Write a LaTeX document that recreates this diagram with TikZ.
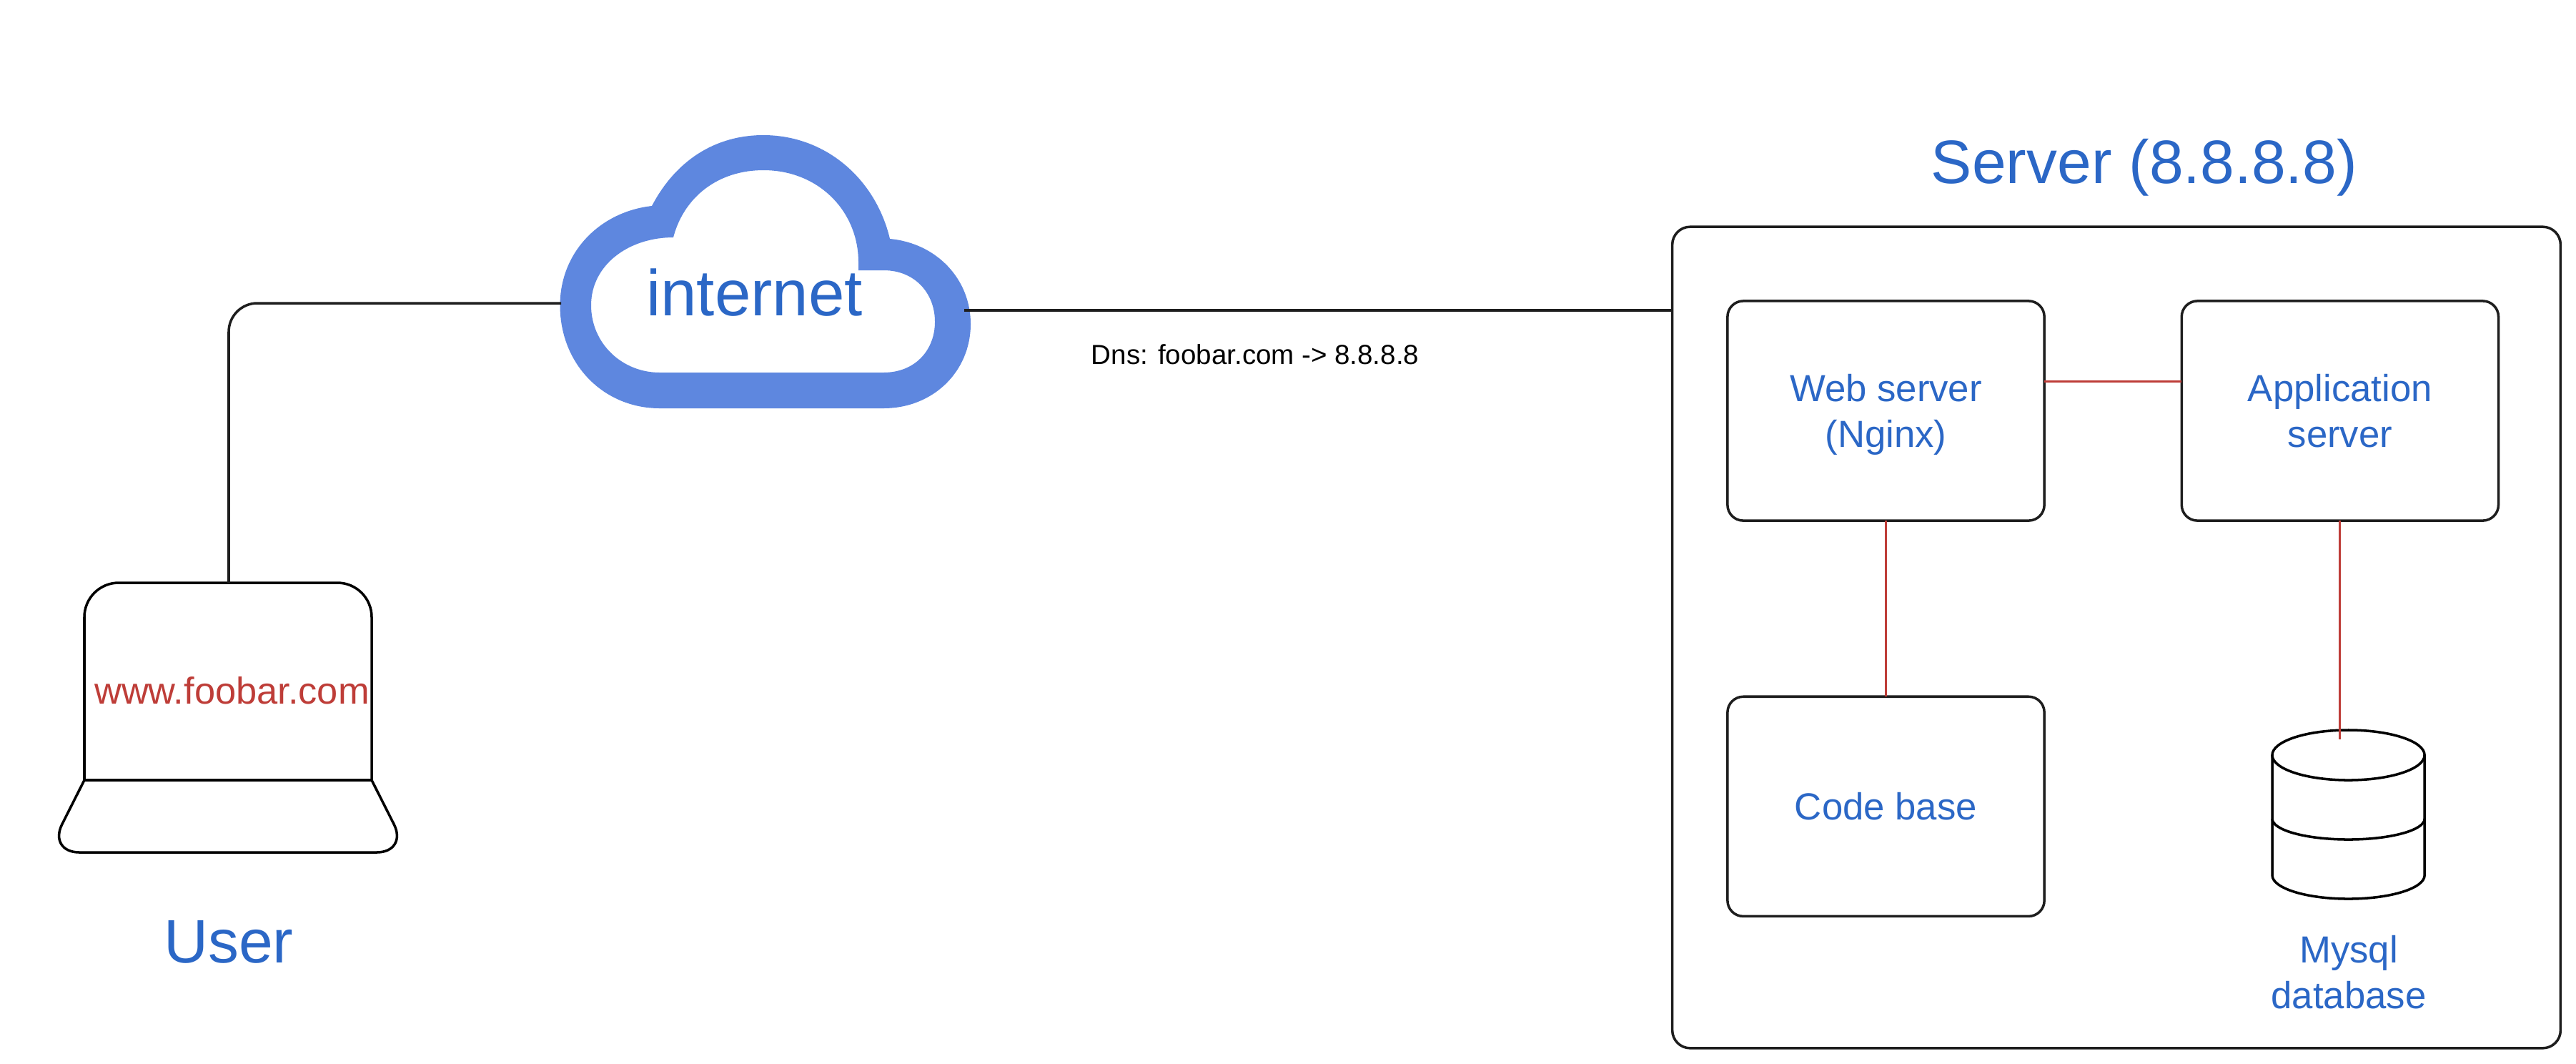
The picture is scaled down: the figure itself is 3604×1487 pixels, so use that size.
\documentclass[tikz,border=0pt]{standalone}
\usepackage{fontspec}
\setmainfont{Liberation Sans}
\usetikzlibrary{positioning}
\definecolor{labelblue}{HTML}{2B67C6}
\definecolor{cloudblue}{HTML}{5E87DF}
\definecolor{linkred}{HTML}{BE3D38}
\definecolor{wireblack}{HTML}{1E1E1E}

\begin{document}
\begin{tikzpicture}[
  x=0.01cm, y=-0.01cm,
  box/.style={draw=wireblack, line width=1pt, rectangle, rounded corners=0.22cm, minimum width=4.43cm, minimum height=3.07cm, inner sep=0pt, outer sep=0pt, align=center, text=labelblue, font=\fontsize{15}{18}\selectfont},
  biglabel/.style={anchor=base, inner sep=0pt, text=labelblue, font=\fontsize{24.4}{28}\selectfont},
  smalllabel/.style={anchor=base, inner sep=0pt, align=center, text=labelblue, font=\fontsize{15}{18}\selectfont},
  wire/.style={draw=wireblack, line width=1pt},
  link/.style={draw=linkred, line width=0.85pt},
  outline/.style={draw=black, line width=1pt}
]
\useasboundingbox (0,0) rectangle (3604,1487);

\fill[cloudblue, even odd rule] (912,288) .. controls (840,296) and (783.5,352) .. (783.5,427) .. controls (783.5,510) and (845,571) .. (923,571) -- (1236,571) .. controls (1305,571) and (1358,520) .. (1358,453) .. controls (1358,390) and (1310,340) .. (1245,334) .. controls (1225,250) and (1155,189) .. (1068,189) .. controls (1000,189) and (945,225) .. (912,288) -- cycle
  (942,332) .. controls (880,332) and (827,370) .. (827,427) .. controls (827,480) and (870,521) .. (923,521) -- (1236,521) .. controls (1280,521) and (1308,490) .. (1308,450) .. controls (1308,410) and (1280,378) .. (1236,378) -- (1201,378) -- (1201,367) .. controls (1201,295) and (1145,238) .. (1068,238) .. controls (1005,238) and (957,275) .. (942,332) -- cycle;
\node (internet) [biglabel, font=\fontsize{25.8}{30}\selectfont] at (1055.5,441) {internet};
\coordinate (cloudleft) at (785,424);
\coordinate (cloudright) at (1349,434);

\draw[outline, rounded corners=0.48cm] (118,1091) |- (520,815) -- (520,1091);
\draw[outline] (118,1091) -- (520,1091);
\draw[outline, rounded corners=0.44cm] (118,1091) -- (67,1192) -- (571,1192) -- (520,1091);
\coordinate (laptoptop) at (320,815);
\node (foobar) [anchor=base, inner sep=0pt, text=linkred, font=\fontsize{14.9}{17}\selectfont] at (324.5,984) {www.foobar.com};
\node (user) [biglabel] at (320,1346) {User};

\node (server) [box, rounded corners=0.25cm, minimum width=12.42cm, minimum height=11.48cm] at (2961,891.5) {};
\node (servertitle) [biglabel] at (3000,256) {Server (8.8.8.8)};
\node (webserver) [box, text depth=0pt] at (2638.5,574.5) {Web server\\(Nginx)};
\node (appserver) [box, right=1.92cm of webserver] {Application\\server};
\node (codebase) [box, below=2.46cm of webserver] {Code base};

\draw[outline] (3285.5,1056) ellipse [x radius=1.065cm, y radius=0.35cm];
\draw[outline] (3179,1056) -- (3179,1224) arc [start angle=180, end angle=360, x radius=1.065cm, y radius=0.33cm] -- (3392,1056);
\draw[outline] (3179,1145) arc [start angle=180, end angle=360, x radius=1.065cm, y radius=0.29cm];
\coordinate (mysqltop) at (appserver.south |- 0,1034);
\node (mysql) [smalllabel] at (3286,1410) {Mysql\\database};

\node (dns) [anchor=base, inner sep=0pt, text=black, font=\fontsize{10.95}{13}\selectfont] at (1756,509) {Dns: foobar.com -> 8.8.8.8};

\draw[wire, rounded corners=0.4cm] (cloudleft) -| (laptoptop);
\draw[wire] (cloudright) -- (server.west |- cloudright);
\draw[link] ([yshift=0.41cm]webserver.east) -- ([yshift=0.41cm]appserver.west);
\draw[link] (webserver) -- (codebase);
\draw[link] (appserver) -- (mysqltop);

\end{tikzpicture}
\end{document}
